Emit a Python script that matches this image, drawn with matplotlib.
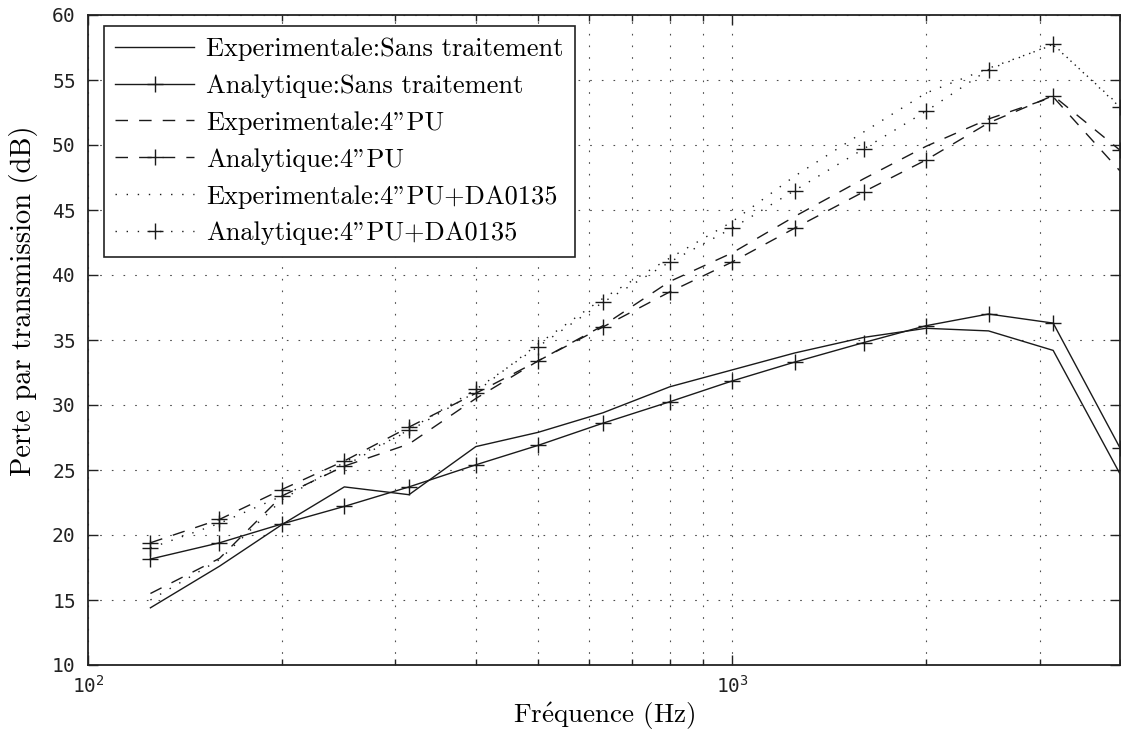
import matplotlib
matplotlib.use("Agg")
import matplotlib.pyplot as plt
from matplotlib.ticker import LogLocator, NullFormatter, MultipleLocator

plt.rcParams['mathtext.fontset'] = 'cm'
plt.rcParams['axes.formatter.use_mathtext'] = True

freq = [125, 160, 200, 250, 315, 400, 500, 630, 800, 1000, 1250, 1600, 2000, 2500, 3150, 4000]

exp_sans = [14.4, 17.6, 20.8, 23.7, 23.1, 26.8, 27.9, 29.4, 31.4, 32.7, 34.0, 35.2, 35.9, 35.7, 34.2, 24.7]
ana_sans = [18.15, 19.4, 20.85, 22.2, 23.7, 25.4, 26.9, 28.6, 30.25, 31.85, 33.3, 34.8, 36.1, 37.0, 36.3, 26.7]
exp_pu = [15.5, 18.2, 23.0, 25.3, 27.0, 30.5, 33.4, 36.1, 39.5, 41.7, 44.5, 47.4, 49.9, 52.0, 53.7, 48.0]
ana_pu = [19.4, 21.2, 23.5, 25.7, 28.3, 30.9, 33.4, 36.0, 38.7, 41.0, 43.6, 46.4, 48.85, 51.7, 53.8, 49.6]
exp_da = [15.0, 18.1, 22.7, 25.6, 28.0, 31.0, 34.7, 38.2, 41.3, 44.1, 47.6, 51.0, 54.0, 55.9, 57.7, 53.0]
ana_da = [19.0, 20.9, 23.0, 25.3, 28.1, 31.2, 34.5, 37.9, 41.0, 43.6, 46.5, 49.7, 52.6, 55.8, 57.75, 52.9]

labels = ['Experimentale:Sans traitement', 'Analytique:Sans traitement',
          'Experimentale:4"PU', 'Analytique:4"PU',
          'Experimentale:4"PU+DA0135', 'Analytique:4"PU+DA0135']

fig = plt.figure(figsize=(11.21, 7.38), dpi=100)
ax = fig.add_axes([88/1121, 1-665/738, 1032/1121, 650/738])

col = '#1a1a1a'
dash = (0, (9, 8))
dot = (0, (1, 7))
lw = 1.0
ms = 11
ax.plot(freq, exp_sans, color=col, lw=lw, ls='-', label=labels[0])
ax.plot(freq, ana_sans, color=col, lw=lw, ls='-', marker='+', ms=ms, mew=1.0, label=labels[1])
ax.plot(freq, exp_pu, color=col, lw=lw, ls=dash, label=labels[2])
ax.plot(freq, ana_pu, color=col, lw=lw, ls=dash, marker='+', ms=ms, mew=1.0, label=labels[3])
ax.plot(freq, exp_da, color=col, lw=lw, ls=dot, label=labels[4])
ax.plot(freq, ana_da, color=col, lw=lw, ls=dot, marker='+', ms=ms, mew=1.0, label=labels[5])

ax.set_xscale('log')
ax.set_xlim(100, 4000)
ax.set_ylim(10, 60)
ax.yaxis.set_major_locator(MultipleLocator(5))
ax.xaxis.set_major_locator(LogLocator(base=10))
ax.xaxis.set_minor_locator(LogLocator(base=10, subs=range(2, 10)))
ax.xaxis.set_minor_formatter(NullFormatter())

gridls = (0, (1.5, 9))
ax.grid(True, which='both', axis='x', color='0.3', lw=0.8, ls=gridls)
ax.grid(True, which='major', axis='y', color='0.3', lw=0.8, ls=gridls)

ax.tick_params(which='both', direction='in', top=True, right=True, width=1.0, color='#222222')
ax.tick_params(which='major', length=7)
ax.tick_params(which='minor', length=4)
ax.tick_params(axis='both', labelsize=14, labelfontfamily='DejaVu Sans Mono', labelcolor='#222222')
ax.tick_params(axis='y', pad=9)
ax.tick_params(axis='x', pad=7)
for s in ax.spines.values():
    s.set_linewidth(1.3)
    s.set_color('#222222')

ax.set_xlabel(r'Fr$\mathrm{\acute{e}}$quence (Hz)', fontfamily='cmr10', fontsize=19.5, labelpad=3)
ax.set_ylabel('Perte par transmission (dB)', fontfamily='cmr10', fontsize=20.5)
ax.yaxis.set_label_coords(-0.048, 0.56)

leg = ax.legend(loc='upper left', bbox_to_anchor=((104-88)/1032, (665-26)/650), borderaxespad=0,
                prop={'family': 'cmr10', 'size': 19}, fancybox=False, framealpha=1,
                edgecolor='#222222', handlelength=3.0, handletextpad=0.45, labelspacing=0.5,
                numpoints=1, borderpad=0.42)
leg.get_frame().set_linewidth(1.2)

fig.savefig('out.png', dpi=100)
